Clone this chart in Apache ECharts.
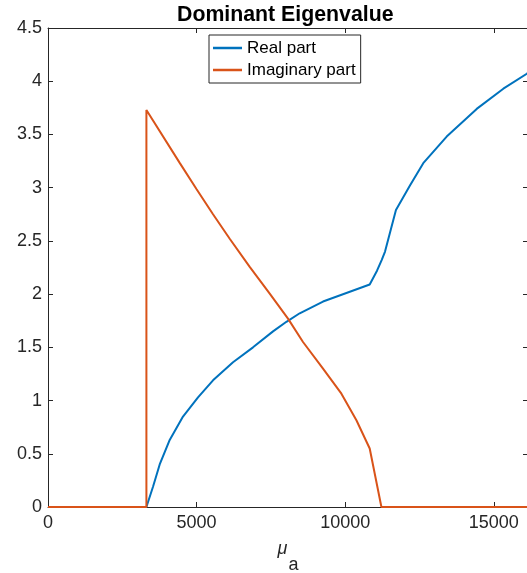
<!DOCTYPE html>
<html>
<head>
<meta charset="utf-8">
<script src="https://cdn.jsdelivr.net/npm/echarts@6/dist/echarts.min.js"></script>
<style>html,body{margin:0;padding:0;background:#fff}#c{width:527px;height:573px}</style>
</head>
<body>
<div id="c"></div>
<script>
// ---- data ----
const realX = [0, 3311, 3533, 3758, 4095, 4542, 5047, 5552, 6225, 6898, 7571, 8022, 8469, 9253, 10040, 10824, 11070, 11226, 11340, 11707, 12178, 12626, 13414, 14424, 15320, 16108, 16150];
const realY = [0, 0, 0.19, 0.40, 0.63, 0.85, 1.03, 1.19, 1.36, 1.50, 1.65, 1.74, 1.82, 1.93, 2.01, 2.09, 2.22, 2.32, 2.40, 2.79, 3.02, 3.23, 3.48, 3.74, 3.93, 4.07, 4.08];
const imagX = [0, 3311, 3311, 4431, 5000, 5552, 6114, 6787, 7460, 8075, 8580, 9253, 9872, 10377, 10824, 11218, 16150];
const imagY = [0, 0, 3.73, 3.233, 2.985, 2.75, 2.52, 2.256, 2.005, 1.77, 1.55, 1.30, 1.065, 0.815, 0.55, 0, 0];
const seriesNames = ['Real part', 'Imaginary part'];
const xTicks = [0, 5000, 10000, 15000];
const yTickLabels = ['0', '0.5', '1', '1.5', '2', '2.5', '3', '3.5', '4', '4.5'];

const FONT = 'Liberation Sans';
const AX = '#262626';
const zip = (a, b) => a.map((v, i) => [v, b[i]]);

const chart = echarts.init(document.getElementById('c'), null, {renderer: 'canvas'});
const xCommon = {
  type: 'value', min: 0, max: 16150, interval: 5000,
  axisLine: {show: true, onZero: false, lineStyle: {color: AX, width: 1}},
  axisTick: {show: true, inside: true, length: 5, lineStyle: {color: AX}},
  splitLine: {show: false}
};
const yCommon = {
  type: 'value', min: 0, max: 4.5, interval: 0.5,
  axisLine: {show: true, onZero: false, lineStyle: {color: AX, width: 1}},
  axisTick: {show: true, inside: true, length: 5, lineStyle: {color: AX}},
  splitLine: {show: false}
};
chart.setOption({
  animation: false,
  backgroundColor: '#fff',
  title: {
    text: 'Dominant Eigenvalue', left: 172, top: 0,
    textStyle: {fontFamily: FONT, fontWeight: 'bold', fontSize: 21.3, color: '#000'}
  },
  legend: {
    data: seriesNames, orient: 'vertical', left: 209, top: 35,
    padding: [3, 5, 3, 4], itemGap: 2, itemWidth: 29, itemHeight: 2.5,
    icon: 'rect',
    backgroundColor: '#fff', borderColor: AX, borderWidth: 1, borderRadius: 0,
    textStyle: {fontFamily: FONT, fontSize: 17, color: '#000', lineHeight: 20}
  },
  grid: {left: 48, right: -1, top: 28, bottom: 66, containLabel: false, outerBoundsMode: 'none'},
  xAxis: [
    Object.assign({}, xCommon, {
      position: 'bottom',
      name: '{mu|μ}{sub|a}', nameLocation: 'middle', nameGap: 33,
      nameTextStyle: {rich: {
        mu: {fontFamily: FONT, fontStyle: 'italic', fontSize: 18, color: AX, lineHeight: 34, verticalAlign: 'top'},
        sub: {fontFamily: FONT, fontSize: 18, color: AX, lineHeight: 34, verticalAlign: 'bottom', padding: [0, 0, 0, 1]}
      }},
      axisLabel: {
        fontFamily: FONT, fontSize: 18, color: AX, margin: 7,
        showMaxLabel: false,
        formatter: v => (xTicks.indexOf(v) >= 0 ? String(v) : '')
      }
    }),
    Object.assign({}, xCommon, {position: 'top', axisLabel: {show: false}})
  ],
  yAxis: [
    Object.assign({}, yCommon, {
      position: 'left',
      axisLabel: {
        fontFamily: FONT, fontSize: 18, color: AX, margin: 6,
        formatter: v => yTickLabels[Math.round(v * 2)]
      }
    }),
    Object.assign({}, yCommon, {position: 'right', axisLabel: {show: false}})
  ],
  series: [
    {
      name: seriesNames[0], type: 'line', data: zip(realX, realY),
      symbol: 'none', showSymbol: false, clip: false, smooth: false,
      lineStyle: {color: '#0072BD', width: 2}, itemStyle: {color: '#0072BD'}, z: 3
    },
    {
      name: seriesNames[1], type: 'line', data: zip(imagX, imagY),
      symbol: 'none', showSymbol: false, clip: false, smooth: false,
      lineStyle: {color: '#D95319', width: 2}, itemStyle: {color: '#D95319'}, z: 4
    }
  ]
});
</script>
</body>
</html>
